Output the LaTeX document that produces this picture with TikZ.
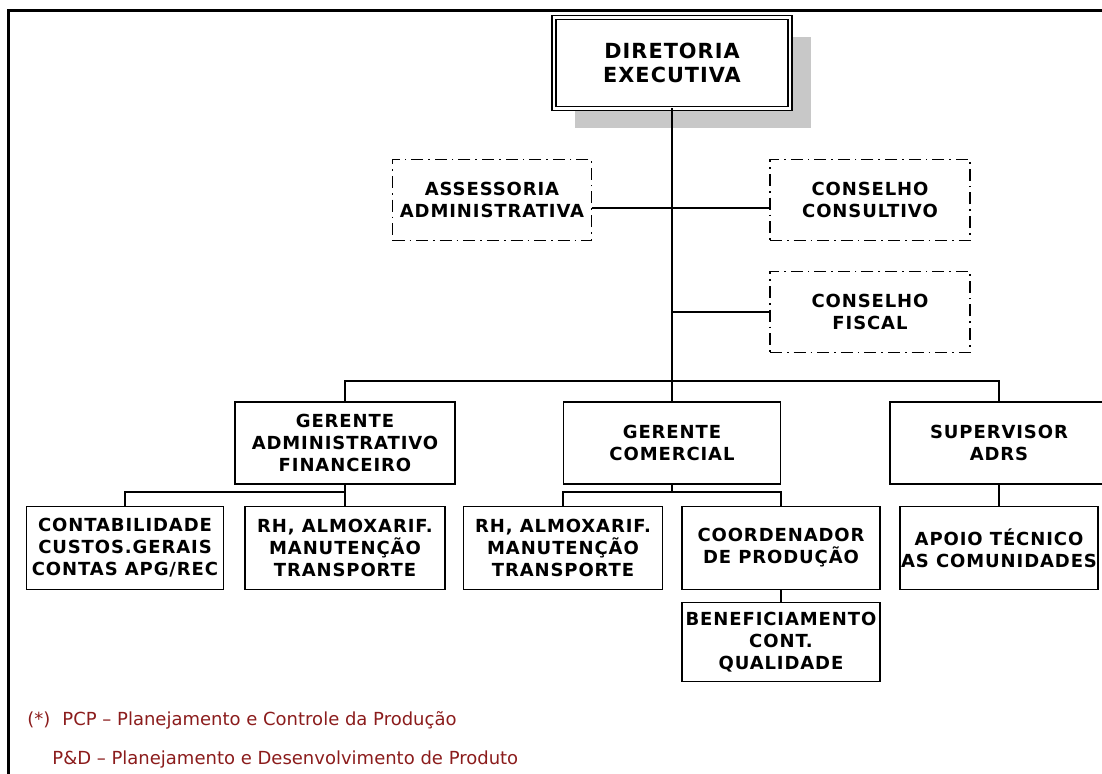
\documentclass[tikz,border=0pt]{standalone}
\usepackage{fontspec}
\setmainfont{DejaVu Sans}
\newfontfamily\boxfont{DejaVu Sans}[LetterSpace=5]
\newfontfamily\notefont{DejaVu Sans}
\usepackage{tikz}
\usetikzlibrary{shadows}
\definecolor{notered}{HTML}{8B1C1C}
\definecolor{shadowgray}{HTML}{C8C8C8}
\newcommand*\boxline{0.75pt}
\tikzset{
    unit/.style      = {draw, rectangle, line width=\boxline, align=center,
                        inner sep=0pt, outer sep=0pt,
                        font=\boxfont\bfseries\fontsize{9}{11}\selectfont},
    topunit/.style   = {unit, fill=white, double, line width=0.7pt,
                        double distance=1.2pt,
                        font=\boxfont\bfseries\fontsize{10.4}{12}\selectfont,
                        drop shadow={shadow xshift=10.5pt, shadow yshift=-10pt,
                                     fill=shadowgray, opacity=1}},
    staffunit/.style = {unit, line width=0.6pt,
                        dash pattern=on 6pt off 2.5pt on 0.8pt off 2.5pt},
    link/.style      = {line width=0.7pt},
    trunk/.style     = {line width=1.1pt},
    frame/.style     = {line width=1.5pt},
    note/.style      = {anchor=west, text=notered, inner sep=0pt,
                        font=\notefont\fontsize{9}{10}\selectfont},
  }

\begin{document}
\begin{tikzpicture}[x=0.5pt, y=-0.5pt]
    \useasboundingbox (0,0) rectangle (1102,774);
    % page frame
    \draw[frame] (8,774) -- (8,11) -- (1102,11);

    % top level
    \node[topunit, minimum width=118pt, minimum height=45.5pt] (dir) at (672,63)
        {DIRETORIA\\EXECUTIVA};

    % staff boxes
    \node[staffunit, minimum width=99.5pt, minimum height=40.5pt] (ases) at (492,200)
        {ASSESSORIA\\ADMINISTRATIVA};
    \node[staffunit, minimum width=100pt, minimum height=40.5pt] (consul) at (870,200)
        {CONSELHO\\CONSULTIVO};
    \node[staffunit, minimum width=100pt, minimum height=40.5pt] (fiscal) at (870,312)
        {CONSELHO\\FISCAL};

    % managers
    \node[unit, minimum width=110pt, minimum height=41pt] (gadm) at (345,443)
        {GERENTE\\ADMINISTRATIVO\\FINANCEIRO};
    \node[unit, minimum width=108.5pt, minimum height=41pt] (gcom) at (672,443)
        {GERENTE\\COMERCIAL};
    \node[unit, minimum width=109pt, minimum height=41pt] (sup) at (999,443)
        {SUPERVISOR\\ADRS};

    % sections
    \node[unit, minimum width=98.5pt, minimum height=41.5pt] (contab) at (125,548)
        {CONTABILIDADE\\CUSTOS.GERAIS\\CONTAS APG/REC};
    \node[unit, minimum width=100pt, minimum height=41.5pt] (rhadm) at (345,548)
        {RH, ALMOXARIF.\\MANUTENÇÃO\\TRANSPORTE};
    \node[unit, minimum width=99.5pt, minimum height=41.5pt] (rhcom) at (563,548)
        {RH, ALMOXARIF.\\MANUTENÇÃO\\TRANSPORTE};
    \node[unit, minimum width=99pt, minimum height=41.5pt] (coord) at (781,548)
        {COORDENADOR\\DE PRODUÇÃO};
    \node[unit, minimum width=99pt, minimum height=41.5pt] (apoio) at (999,548)
        {APOIO TÉCNICO\\AS COMUNIDADES};
    \node[unit, minimum width=99pt, minimum height=39.5pt] (benef) at (781,642)
        {BENEFICIAMENTO\\CONT.\\QUALIDADE};

    % connectors
    \coordinate (bus)  at (672,381);
    \coordinate (subA) at (345,492);
    \coordinate (subB) at (672,492);
    \draw[trunk] (dir.south) -- (bus);
    \draw[link] ([yshift=-4pt]ases.east) -- ([yshift=-4pt]consul.west);
    \draw[link] (dir.south |- fiscal.west) -- (fiscal.west);
    \draw[link] (gadm.north) |- (bus) -| (sup.north);
    \draw[link] (bus) -- (gcom.north);
    \draw[link] (gadm.south) -- (subA);
    \draw[link] (contab.north) |- (subA) -- (rhadm.north);
    \draw[link] (gcom.south) -- (subB);
    \draw[link] (rhcom.north) |- (subB) -| (coord.north);
    \draw[link] (sup.south) -- (apoio.north);
    \draw[link] (coord.south) -- (benef.north);

    % footnote
    \node[note] (pcp) at (27,720) {(*)\hspace{6pt}PCP – Planejamento e Controle da Produção};
    \node[note] (ped) at (52,760) {P\&D – Planejamento e Desenvolvimento de Produto};
\end{tikzpicture}
\end{document}
